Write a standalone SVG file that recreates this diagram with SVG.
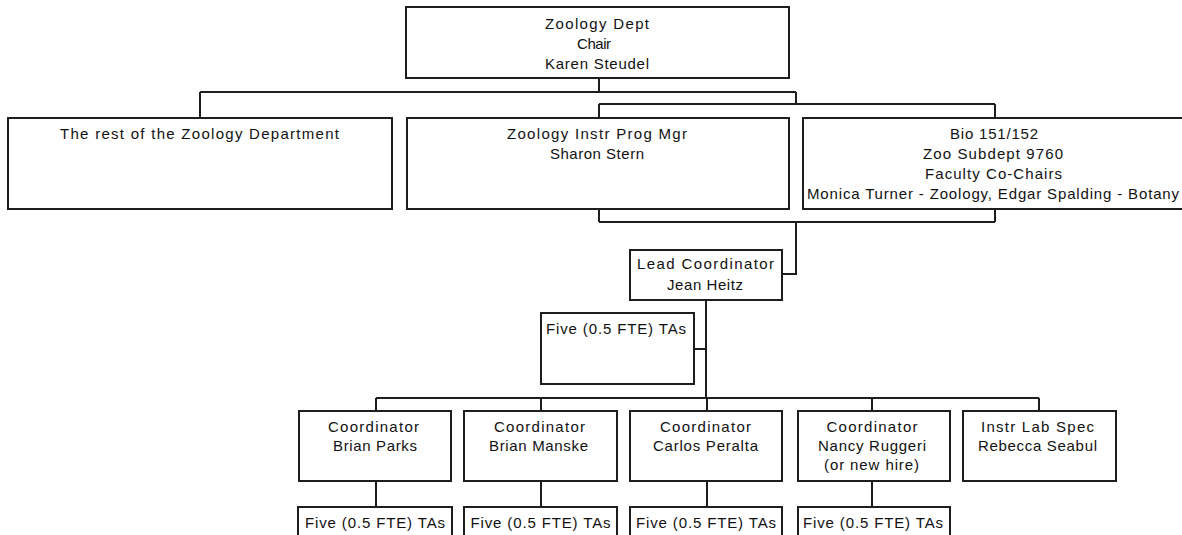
<svg xmlns="http://www.w3.org/2000/svg" width="1182" height="535" viewBox="0 0 1182 535">
<style>
.box{fill:#fff;stroke:#1e1e1e;stroke-width:2}
.ln{fill:none;stroke:#1e1e1e;stroke-width:2}
text{font-family:"Liberation Sans",Arial,sans-serif;font-size:15px;fill:#111;text-anchor:middle}
</style>
<rect width="1182" height="535" fill="#fff"/>
<g id="connectors" class="ln">
<path d="M599 78V92M200 92H796M200 92V118M796 92V104M599 104H995M599 104V118M995 104V118"/>
<path d="M599 209V222M995 209V222M599 222H995M796 222V274H782"/>
<path d="M706 300V398M694 349H706M376 398H1039"/>
<path d="M376 398V411M541 398V411M707 398V411M872 398V411M1039 398V411"/>
<path d="M376 481V507M541 481V507M707 481V507M872 481V507"/>
</g>
<g id="chair">
<rect class="box" x="406" y="7" width="383" height="71"/>
<text x="597" y="28.5" textLength="104" lengthAdjust="spacing">Zoology Dept</text>
<text x="594" y="48.5" textLength="34" lengthAdjust="spacing">Chair</text>
<text x="597" y="68.5" textLength="104" lengthAdjust="spacing">Karen Steudel</text>
</g>
<g id="rest">
<rect class="box" x="8" y="118" width="384" height="91"/>
<text x="199.5" y="138.5" textLength="279" lengthAdjust="spacing">The rest of the Zoology Department</text>
</g>
<g id="instrmgr">
<rect class="box" x="407" y="118" width="382" height="91"/>
<text x="597" y="138.5" textLength="180" lengthAdjust="spacing">Zoology Instr Prog Mgr</text>
<text x="597" y="158.5" textLength="94" lengthAdjust="spacing">Sharon Stern</text>
</g>
<g id="bio">
<rect class="box" x="803" y="118" width="383" height="91"/>
<text x="994" y="138.5" textLength="88" lengthAdjust="spacing">Bio 151/152</text>
<text x="993" y="158.5" textLength="140" lengthAdjust="spacing">Zoo Subdept 9760</text>
<text x="993.5" y="178.5" textLength="137" lengthAdjust="spacing">Faculty Co-Chairs</text>
<text x="993" y="198.5" textLength="372" lengthAdjust="spacing">Monica Turner - Zoology, Edgar Spalding - Botany</text>
</g>
<g id="lead">
<rect class="box" x="630" y="250" width="152" height="50"/>
<text x="705.5" y="269" textLength="137" lengthAdjust="spacing">Lead Coordinator</text>
<text x="705" y="290" textLength="76" lengthAdjust="spacing">Jean Heitz</text>
</g>
<g id="leadtas">
<rect class="box" x="541" y="313" width="153" height="71"/>
<text x="616" y="334" textLength="140" lengthAdjust="spacing">Five (0.5 FTE) TAs</text>
</g>
<g id="parks">
<rect class="box" x="299" y="411" width="152" height="70"/>
<text x="373.5" y="432" textLength="91" lengthAdjust="spacing">Coordinator</text>
<text x="375" y="451" textLength="84" lengthAdjust="spacing">Brian  Parks</text>
</g>
<g id="manske">
<rect class="box" x="464" y="411" width="153" height="70"/>
<text x="539.5" y="432" textLength="91" lengthAdjust="spacing">Coordinator</text>
<text x="538.5" y="451" textLength="99" lengthAdjust="spacing">Brian Manske</text>
</g>
<g id="peralta">
<rect class="box" x="630" y="411" width="152" height="70"/>
<text x="705.5" y="432" textLength="91" lengthAdjust="spacing">Coordinator</text>
<text x="705.5" y="451" textLength="105" lengthAdjust="spacing">Carlos Peralta</text>
</g>
<g id="ruggeri">
<rect class="box" x="798" y="411" width="152" height="70"/>
<text x="872" y="432" textLength="91" lengthAdjust="spacing">Coordinator</text>
<text x="872" y="451" textLength="108" lengthAdjust="spacing">Nancy Ruggeri</text>
<text x="871.5" y="470" textLength="95" lengthAdjust="spacing">(or new hire)</text>
</g>
<g id="seabul">
<rect class="box" x="963" y="411" width="153" height="70"/>
<text x="1037.5" y="432" textLength="113" lengthAdjust="spacing">Instr Lab Spec</text>
<text x="1037.5" y="451" textLength="119" lengthAdjust="spacing">Rebecca Seabul</text>
</g>
<g id="tas1">
<rect class="box" x="298" y="507" width="154" height="40"/>
<text x="375" y="528" textLength="140" lengthAdjust="spacing">Five (0.5 FTE) TAs</text>
</g>
<g id="tas2">
<rect class="box" x="464" y="507" width="153" height="40"/>
<text x="540.5" y="528" textLength="140" lengthAdjust="spacing">Five (0.5 FTE) TAs</text>
</g>
<g id="tas3">
<rect class="box" x="630" y="507" width="152" height="40"/>
<text x="706" y="528" textLength="140" lengthAdjust="spacing">Five (0.5 FTE) TAs</text>
</g>
<g id="tas4">
<rect class="box" x="798" y="507" width="152" height="40"/>
<text x="873" y="528" textLength="140" lengthAdjust="spacing">Five (0.5 FTE) TAs</text>
</g>
</svg>
